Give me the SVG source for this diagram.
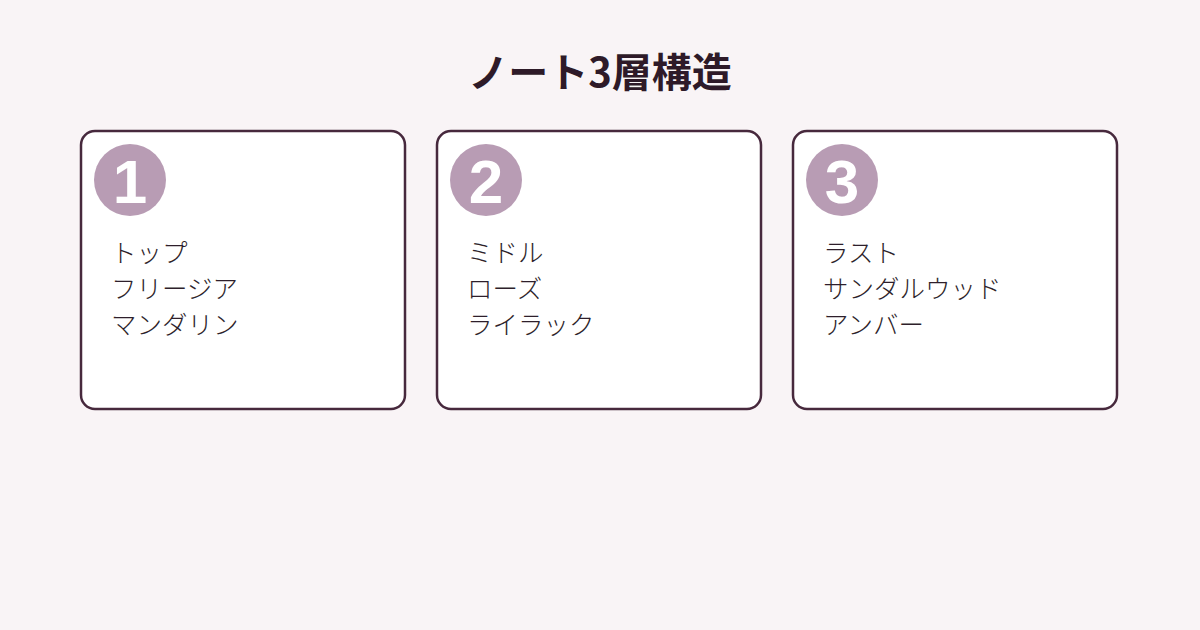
<svg xmlns="http://www.w3.org/2000/svg" width="1200" height="630" viewBox="0 0 1200 630">
<style>
.card{fill:#ffffff;stroke:#47293d;stroke-width:2.5}
.badge{fill:#b89cb4}
.num{font-family:"Liberation Sans","Noto Sans",sans-serif;font-weight:bold;font-size:62px;fill:#ffffff;text-anchor:middle}
.item{font-family:"Noto Sans CJK JP","Noto Sans",sans-serif;font-weight:300;font-size:25.5px;fill:#2e1f2b}
.title{font-family:"Noto Sans CJK JP","Noto Sans",sans-serif;font-weight:bold;font-size:40px;fill:#2e1a28;text-anchor:middle}
</style>
<rect width="1200" height="630" fill="#f9f4f6"/>
<text class="title" x="600" y="87">ノート3層構造</text>
<g id="connectors"></g>
<g id="node-top">
<rect class="card" x="81" y="131" width="324" height="278" rx="14"/>
<circle class="badge" cx="130" cy="180" r="36"/>
<text class="num" x="130" y="203">1</text>
<text class="item" x="111" y="262">トップ</text>
<text class="item" x="111" y="298">フリージア</text>
<text class="item" x="111" y="334">マンダリン</text>
</g>
<g id="node-middle">
<rect class="card" x="437" y="131" width="324" height="278" rx="14"/>
<circle class="badge" cx="486" cy="180" r="36"/>
<text class="num" x="486" y="203">2</text>
<text class="item" x="467" y="262">ミドル</text>
<text class="item" x="467" y="298">ローズ</text>
<text class="item" x="467" y="334">ライラック</text>
</g>
<g id="node-last">
<rect class="card" x="793" y="131" width="324" height="278" rx="14"/>
<circle class="badge" cx="842" cy="180" r="36"/>
<text class="num" x="842" y="203">3</text>
<text class="item" x="823" y="262">ラスト</text>
<text class="item" x="823" y="298">サンダルウッド</text>
<text class="item" x="823" y="334">アンバー</text>
</g>
</svg>
